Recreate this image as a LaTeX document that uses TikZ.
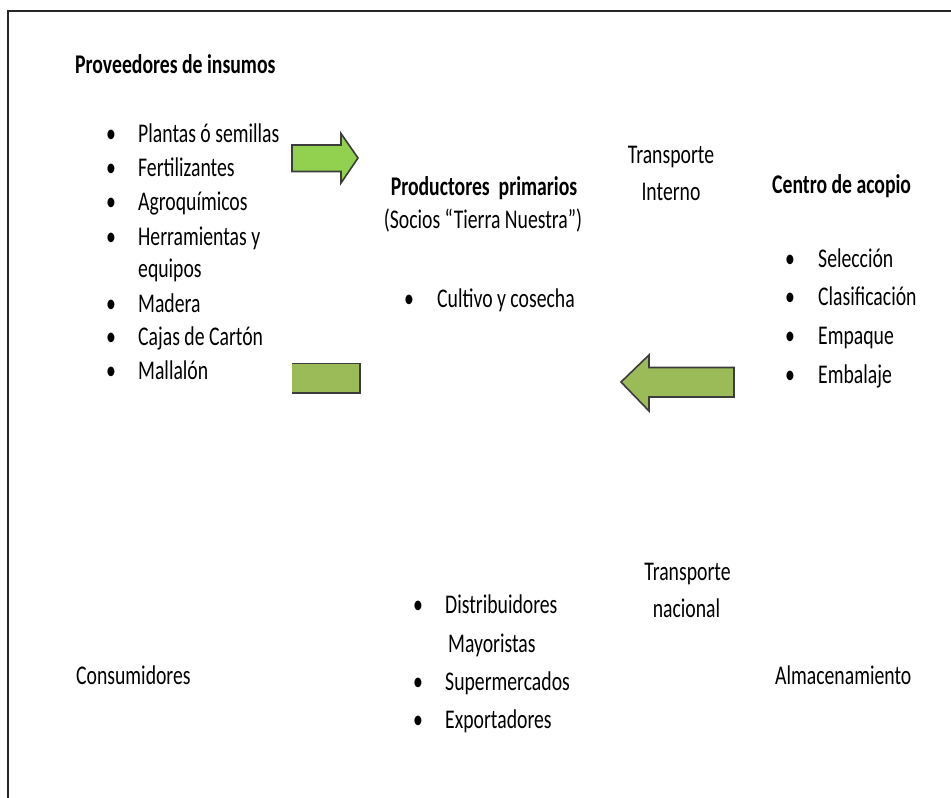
\documentclass[tikz,border=0pt]{standalone}
\usepackage{fontspec}
\setmainfont{Carlito}[FakeStretch=0.73]
\definecolor{arrowA}{HTML}{92D050}
\definecolor{arrowB}{HTML}{9BBB59}
\definecolor{edge}{HTML}{3C3C3C}
\begin{document}
\begin{tikzpicture}[x=1pt,y=-1pt,
  txt/.style={inner sep=0pt,anchor=base west,font=\fontsize{27}{34}\selectfont},
  ctxt/.style={inner sep=0pt,anchor=base,font=\fontsize{27}{34}\selectfont},
  hd/.style={txt,font=\fontsize{27}{34}\selectfont\bfseries},
  chd/.style={ctxt,font=\fontsize{27}{34}\selectfont\bfseries},
  bul/.style={inner sep=0pt,anchor=base,font=\fontsize{27}{34}\selectfont},
  shape line/.style={draw=edge,line width=1.6pt,line join=miter}]
\useasboundingbox (0,0) rectangle (951,798);
\fill[white] (0,0) rectangle (951,798);
% frame
\draw[line width=2pt,black!85] (8,798) -- (8,11) -- (951,11);

% suppliers
\node[hd] (prov) at (75,73) {Proveedores de insumos};
\foreach \t/\y/\n in {Plantas ó semillas/142/1, Fertilizantes/176/2, Agroquímicos/210/3, Herramientas y/245/4, Madera/312/5, Cajas de Cartón/345/6, Mallalón/379/7}{
  \node[bul] (pb\n) at (111,\y) {•};
  \node[txt] (pt\n) at (138,\y) {\t};
}
\node[txt] (pt4b) at (138,277) {equipos};

% right arrow
\filldraw[fill=arrowA,shape line] (292,145) -- (341,145) -- (341,133.5) -- (358,158) -- (341,183) -- (341,171.5) -- (292,171.5) -- cycle;
% left bar (truncated arrow)
\fill[arrowB] (292,363.5) rectangle (360,393);
\draw[shape line] (292,363.5) -- (360,363.5) -- (360,393) -- (292,393);
% left arrow
\filldraw[fill=arrowB,shape line] (734,367.5) -- (649,367.5) -- (649,355) -- (621,382) -- (649,411) -- (649,397) -- (734,397) -- cycle;

% producers
\node[chd] (prod) at (484,195) {Productores\ \ primarios};
\node[ctxt] (socios) at (483,228) {(Socios “Tierra Nuestra”)};
\node[bul] (cb) at (409,307) {•};
\node[txt] (cult) at (437,307) {Cultivo y cosecha};

% internal transport
\node[ctxt] (ti1) at (671,163) {Transporte};
\node[ctxt] (ti2) at (671,200) {Interno};

% collection centre
\node[hd] (centro) at (772,193) {Centro de acopio};
\foreach \t/\y/\n in {Selección/267/1, Clasificación/305/2, Empaque/344/3, Embalaje/383/4}{
  \node[bul] (cb\n) at (790,\y) {•};
  \node[txt] (ct\n) at (818,\y) {\t};
}

% national transport
\node[ctxt] (tn1) at (687.5,580) {Transporte};
\node[ctxt] (tn2) at (686.5,617) {nacional};

% distributors
\node[bul] (db1) at (418,613) {•};
\node[txt] (dt1) at (445,613) {Distribuidores};
\node[txt] (dt1b) at (448,652) {Mayoristas};
\node[bul] (db2) at (418,690) {•};
\node[txt] (dt2) at (445,690) {Supermercados};
\node[bul] (db3) at (418,728) {•};
\node[txt] (dt3) at (445,728) {Exportadores};

\node[txt] (cons) at (76,684) {Consumidores};
\node[txt] (alm) at (775,684) {Almacenamiento};
\end{tikzpicture}
\end{document}
